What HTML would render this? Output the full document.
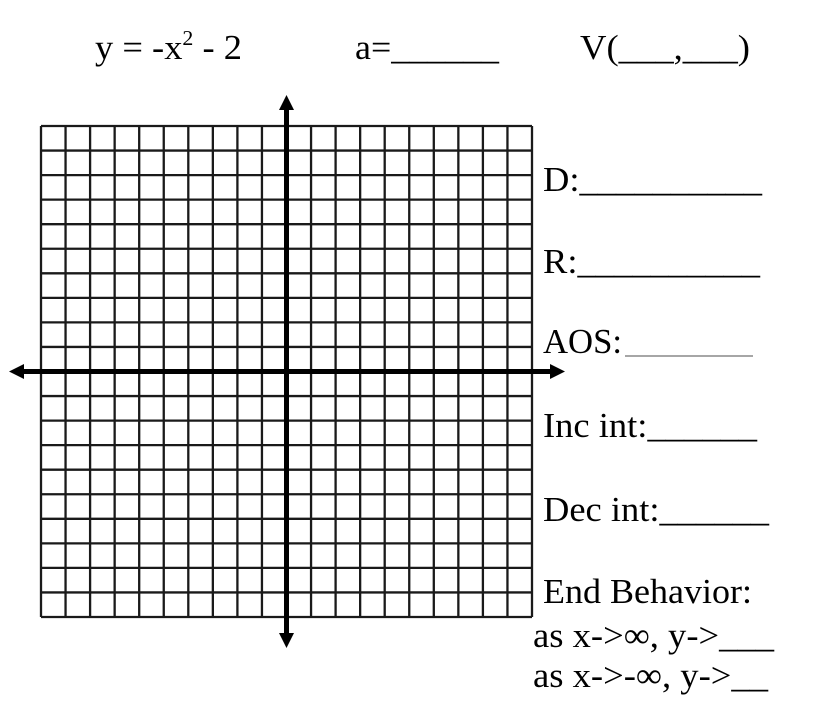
<!DOCTYPE html>
<html><head><style>html,body{margin:0;padding:0;background:#fff}svg{display:block}</style></head>
<body>
<svg width="829" height="720" xmlns="http://www.w3.org/2000/svg" font-family="Liberation Serif, serif" font-size="35" fill="#000">
<g stroke="#1a1a1a" stroke-width="2.3">
<path d="M41 126V617M65.55 126V617M90.1 126V617M114.65 126V617M139.2 126V617M163.75 126V617M188.3 126V617M212.85 126V617M237.4 126V617M261.95 126V617M311.05 126V617M335.6 126V617M360.15 126V617M384.7 126V617M409.25 126V617M433.8 126V617M458.35 126V617M482.9 126V617M507.45 126V617M532 126V617"/>
<path d="M41 126H532M41 150.55H532M41 175.1H532M41 199.65H532M41 224.2H532M41 248.75H532M41 273.3H532M41 297.85H532M41 322.4H532M41 346.95H532M41 396.05H532M41 420.6H532M41 445.15H532M41 469.7H532M41 494.25H532M41 518.8H532M41 543.35H532M41 567.9H532M41 592.45H532M41 617H532"/>
</g>
<g stroke="#000" stroke-width="5">
<path d="M286.5 104V640"/>
<path d="M18 371.5H556"/>
</g>
<path d="M286.5 95 L279 110 L294 110Z M286.5 648 L279 633 L294 633Z M9 371.5 L24 364 L24 379Z M565 371.5 L550 364 L550 379Z"/>
<text x="95" y="59" textLength="147" lengthAdjust="spacingAndGlyphs">y = -x<tspan font-size="21" dy="-14">2</tspan><tspan dy="14"> - 2</tspan></text>
<text x="355" y="59" textLength="144" lengthAdjust="spacingAndGlyphs">a=______</text>
<text x="580" y="59" textLength="170" lengthAdjust="spacingAndGlyphs">V(___,___)</text>
<text x="543" y="191" textLength="219" lengthAdjust="spacingAndGlyphs">D:__________</text>
<text x="543" y="273" textLength="217" lengthAdjust="spacingAndGlyphs">R:__________</text>
<text x="543" y="353" textLength="79" lengthAdjust="spacingAndGlyphs">AOS:</text>
<path d="M625 356H753" stroke="#888" stroke-width="1.5"/>
<text x="543" y="437" textLength="214" lengthAdjust="spacingAndGlyphs">Inc int:______</text>
<text x="543" y="521" textLength="226" lengthAdjust="spacingAndGlyphs">Dec int:______</text>
<text x="543" y="603" textLength="209" lengthAdjust="spacingAndGlyphs">End Behavior:</text>
<text x="533" y="647" textLength="241" lengthAdjust="spacingAndGlyphs">as x-&gt;∞, y-&gt;___</text>
<text x="533" y="687" textLength="235" lengthAdjust="spacingAndGlyphs">as x-&gt;-∞, y-&gt;__</text>
</svg>
</body></html>
